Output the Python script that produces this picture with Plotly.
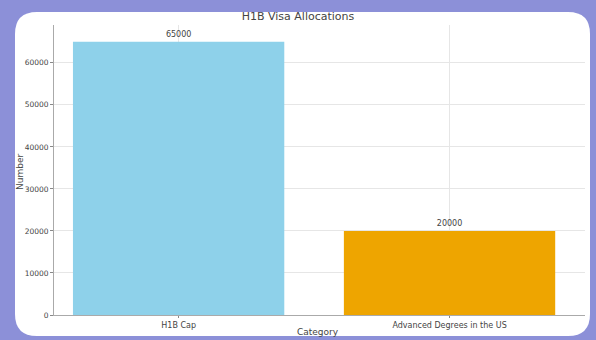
import plotly.graph_objects as go

categories = ["H1B Cap", "Advanced Degrees in the US"]
values = [65000, 20000]
bar_colors = ["#8ed1ea", "#eea500"]
y_ticks = [0, 10000, 20000, 30000, 40000, 50000, 60000]

fig = go.Figure()
fig.add_trace(go.Bar(
    x=[0, 1], y=values, width=0.78,
    marker=dict(color=bar_colors, line=dict(width=0)),
    text=[str(v) for v in values], textposition="outside",
    textfont=dict(size=8, color="#444"), cliponaxis=False,
))

L, R, T, B = 54, 11, 25, 25
W, H = 596 - L - R, 340 - T - B
def px(x): return (x - L) / W
def py(y): return (340 - B - y) / H
x0, x1, y0, y1 = px(15), px(590), py(12), py(336)
rx, ry = 22 / W, 22 / H
path = (f"M {x0+rx},{y0} L {x1-rx},{y0} Q {x1},{y0} {x1},{y0-ry} "
        f"L {x1},{y1+ry} Q {x1},{y1} {x1-rx},{y1} L {x0+rx},{y1} "
        f"Q {x0},{y1} {x0},{y1+ry} L {x0},{y0-ry} Q {x0},{y0} {x0+rx},{y0} Z")
fig.add_shape(type="path", path=path, xref="paper", yref="paper",
              fillcolor="white", line=dict(width=0), layer="below")

fig.add_annotation(text="Number", xref="paper", yref="paper",
                   x=px(20), y=py(172), textangle=-90, showarrow=False,
                   xanchor="center", yanchor="middle",
                   font=dict(size=9, color="#444"))
fig.add_annotation(text="Category", xref="paper", yref="paper",
                   x=px(318), y=py(332), showarrow=False,
                   xanchor="center", yanchor="middle",
                   font=dict(size=9, color="#444"))

fig.update_layout(
    width=596, height=340,
    margin=dict(l=L, r=R, t=T, b=B, autoexpand=False),
    paper_bgcolor="#8c90d8", plot_bgcolor="rgba(0,0,0,0)",
    font=dict(family="DejaVu Sans", color="#444"),
    title=dict(text="H1B Visa Allocations", x=0.5, xanchor="center",
               y=1 - 16 / 340, yanchor="middle", font=dict(size=11, color="#444")),
    showlegend=False, bargap=0.2,
)
fig.update_xaxes(
    automargin=False,
    range=[-0.46, 1.5], tickvals=[0, 1], ticktext=categories,
    tickfont=dict(size=8, color="#444"), ticks="outside", ticklen=2,
    tickcolor="#888", showline=True, linecolor="#aaa", linewidth=1,
    showgrid=True, gridcolor="#e6e6e6", zeroline=False,
)
fig.update_yaxes(
    automargin=False,
    range=[0, 69000], tickvals=y_ticks, ticktext=[str(v) for v in y_ticks],
    tickfont=dict(size=7.5, color="#444"), ticks="outside", ticklen=3,
    tickcolor="#888", showline=True, linecolor="#aaa", linewidth=1,
    showgrid=True, gridcolor="#e6e6e6", zeroline=False,
)
fig.write_html("out.html")
